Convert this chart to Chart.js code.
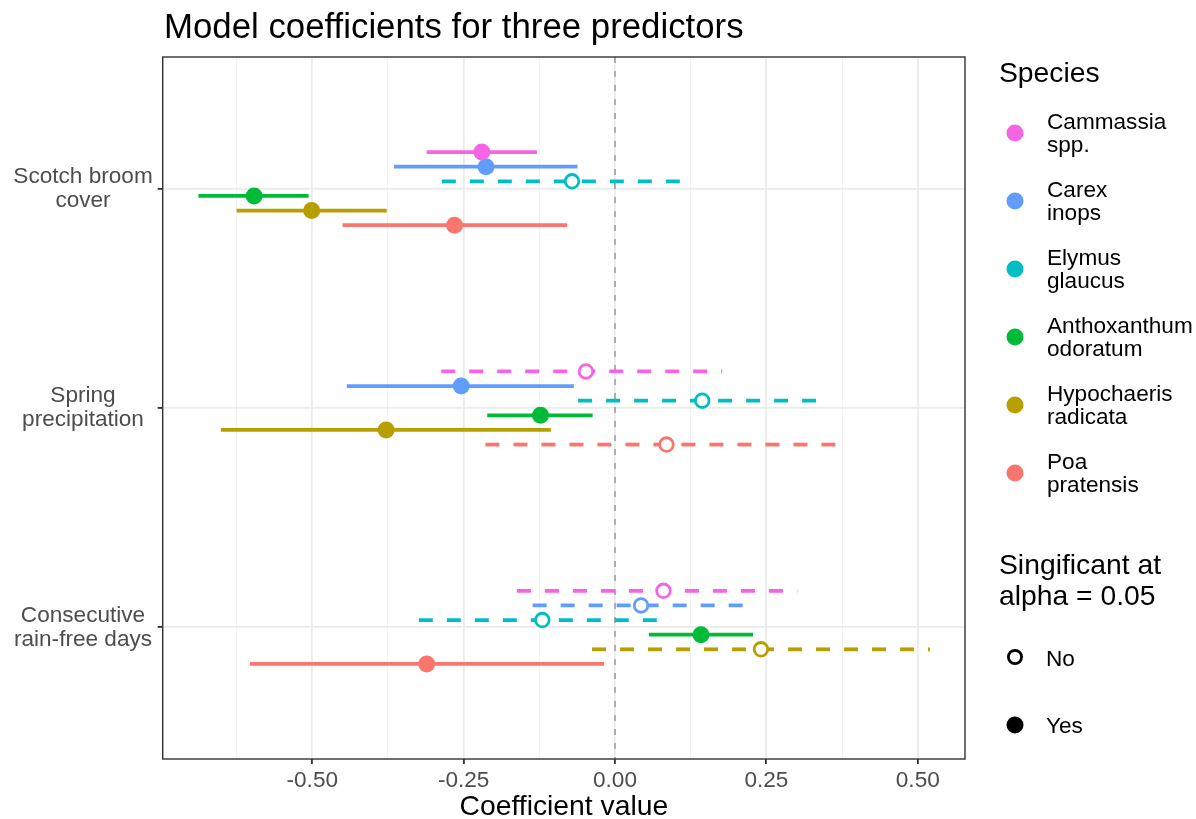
<!DOCTYPE html>
<html>
<head>
<meta charset="utf-8">
<script src="https://cdn.jsdelivr.net/npm/chart.js@4.4.1/dist/chart.umd.min.js"></script>
<style>
  html, body { margin: 0; background: #fff; }
  #wrap { width: 1196px; height: 819px; }
</style>
</head>
<body>
<div id="wrap"><canvas id="chart"></canvas></div>
<script>
const predictors = [['Scotch broom', 'cover'], ['Spring', 'precipitation'], ['Consecutive', 'rain-free days']];
const species = ['Cammassia spp.', 'Carex inops', 'Elymus glaucus', 'Anthoxanthum odoratum', 'Hypochaeris radicata', 'Poa pratensis'];
const xTicks = [-0.5, -0.25, 0, 0.25, 0.5];
const xMinorTicks = [-0.625, -0.375, -0.125, 0.125, 0.375];
const sigLabels = ['No', 'Yes'];

// one row per species, columns = predictors (scotch broom, spring precip, rain-free days)
const estimate = [
  [-0.220, -0.048, 0.080],
  [-0.213, -0.254, 0.043],
  [-0.071, 0.144, -0.120],
  [-0.596, -0.123, 0.142],
  [-0.501, -0.378, 0.241],
  [-0.265, 0.085, -0.311]
];
const lower = [
  [-0.311, -0.287, -0.162],
  [-0.365, -0.443, -0.136],
  [-0.286, -0.061, -0.324],
  [-0.688, -0.211, 0.056],
  [-0.625, -0.651, -0.038],
  [-0.450, -0.214, -0.603]
];
const upper = [
  [-0.129, 0.177, 0.301],
  [-0.062, -0.068, 0.222],
  [0.129, 0.349, 0.084],
  [-0.506, -0.037, 0.228],
  [-0.377, -0.106, 0.520],
  [-0.079, 0.383, -0.018]
];
const significant = [
  [true, false, false],
  [true, true, false],
  [false, false, false],
  [true, true, true],
  [true, true, false],
  [true, false, true]
];

const colors = ['#F564E3', '#619CFF', '#00BFC4', '#00BA38', '#B79F00', '#F8766D'];
const FONT = '"Liberation Sans", Arial, sans-serif';
const dodge = 0.4 / species.length;

function yPos(i, j) {
  return j + 1 + (i - (species.length - 1) / 2) * dodge;
}

const datasets = [];

// zero reference line
datasets.push({
  type: 'line',
  data: [{x: 0, y: 0.4}, {x: 0, y: 3.6}],
  borderColor: '#8c8c8c',
  borderWidth: 1.3,
  borderDash: [6, 8],
  pointRadius: 0,
  order: 3
});

species.forEach((sp, i) => {
  predictors.forEach((p, j) => {
    datasets.push({
      type: 'line',
      data: [{x: lower[i][j], y: yPos(i, j)}, {x: upper[i][j], y: yPos(i, j)}],
      borderColor: colors[i],
      borderWidth: 3.8,
      borderDash: significant[i][j] ? [] : [14, 14],
      pointRadius: 0,
      order: 2
    });
  });
  datasets.push({
    type: 'scatter',
    label: sp,
    data: predictors.map((p, j) => ({x: estimate[i][j], y: yPos(i, j)})),
    pointBackgroundColor: significant[i].map(s => s ? colors[i] : '#ffffff'),
    pointBorderColor: colors[i],
    pointBorderWidth: significant[i].map(s => s ? 0 : 2.8),
    pointRadius: significant[i].map(s => s ? 8.5 : 6.8),
    order: 1
  });
});

const decorations = {
  id: 'decorations',
  afterDraw(chart) {
    const ctx = chart.ctx;
    const a = chart.chartArea;
    ctx.save();
    // panel border
    ctx.strokeStyle = '#333333';
    ctx.lineWidth = 1.4;
    ctx.strokeRect(a.left, a.top, a.right - a.left, a.bottom - a.top);

    // title
    ctx.fillStyle = '#000';
    ctx.textBaseline = 'alphabetic';
    ctx.textAlign = 'left';
    ctx.font = '34.8px ' + FONT;
    ctx.fillText('Model coefficients for three predictors', 164, 37.5);

    // species legend
    ctx.font = '28.3px ' + FONT;
    ctx.fillText('Species', 999, 82);
    ctx.font = '22.6px ' + FONT;
    species.forEach((sp, i) => {
      const y = 133 + 68 * i;
      ctx.fillStyle = colors[i];
      ctx.beginPath();
      ctx.arc(1015, y, 8.5, 0, Math.PI * 2);
      ctx.fill();
      ctx.fillStyle = '#000';
      const parts = sp.split(' ');
      ctx.fillText(parts[0], 1047, y - 4);
      ctx.fillText(parts[1], 1047, y + 18.5);
    });

    // significance legend
    ctx.font = '28.3px ' + FONT;
    ctx.fillText('Singificant at', 999, 574);
    ctx.fillText('alpha = 0.05', 999, 605);
    ctx.font = '22.6px ' + FONT;
    ctx.strokeStyle = '#000';
    ctx.lineWidth = 2.8;
    ctx.beginPath();
    ctx.arc(1015, 657, 6.6, 0, Math.PI * 2);
    ctx.fillStyle = '#fff';
    ctx.fill();
    ctx.stroke();
    ctx.fillStyle = '#000';
    ctx.fillText(sigLabels[0], 1046, 666);
    ctx.beginPath();
    ctx.arc(1015, 725, 8.5, 0, Math.PI * 2);
    ctx.fill();
    ctx.fillText(sigLabels[1], 1046, 733);
    ctx.restore();
  }
};

const chart = new Chart(document.getElementById('chart'), {
  type: 'scatter',
  data: {datasets: datasets},
  options: {
    responsive: true,
    maintainAspectRatio: false,
    animation: false,
    layout: {padding: {top: 57, right: 231, bottom: 0, left: 0}},
    plugins: {legend: {display: false}, tooltip: {enabled: false}},
    scales: {
      x: {
        type: 'linear',
        min: -0.747,
        max: 0.578,
        afterBuildTicks: s => {
          s.ticks = xMinorTicks.concat(xTicks).sort((a, b) => a - b).map(v => ({value: v}));
        },
        afterFit: s => { s.height = 60; },
        ticks: {
          autoSkip: false,
          maxRotation: 0,
          padding: 3,
          color: '#4D4D4D',
          font: {family: FONT, size: 22.6},
          callback: v => xTicks.includes(v) ? v.toFixed(2) : ''
        },
        grid: {
          color: c => (c.tick && xTicks.includes(c.tick.value)) ? '#EBEBEB' : '#F3F3F3',
          lineWidth: c => (c.tick && xTicks.includes(c.tick.value)) ? 1.8 : 1,
          tickColor: c => (c.tick && xTicks.includes(c.tick.value)) ? '#333333' : 'rgba(0,0,0,0)',
          tickLength: 5
        },
        border: {display: false},
        title: {
          display: true,
          text: 'Coefficient value',
          color: '#000',
          padding: 0,
          font: {family: FONT, size: 28.3, lineHeight: 0.86}
        }
      },
      y: {
        type: 'linear',
        min: 0.4,
        max: 3.6,
        reverse: true,
        afterBuildTicks: s => {
          s.ticks = predictors.map((p, j) => ({value: j + 1}));
        },
        afterFit: s => { s.width = 162.7; },
        ticks: {
          autoSkip: false,
          crossAlign: 'center',
          padding: 5,
          color: '#4D4D4D',
          font: {family: FONT, size: 22.6, lineHeight: 24 / 22.6},
          callback: v => predictors[v - 1]
        },
        grid: {color: '#EBEBEB', lineWidth: 1.8, tickColor: '#333333', tickLength: 5},
        border: {display: false}
      }
    }
  },
  plugins: [decorations]
});
</script>
</body>
</html>
